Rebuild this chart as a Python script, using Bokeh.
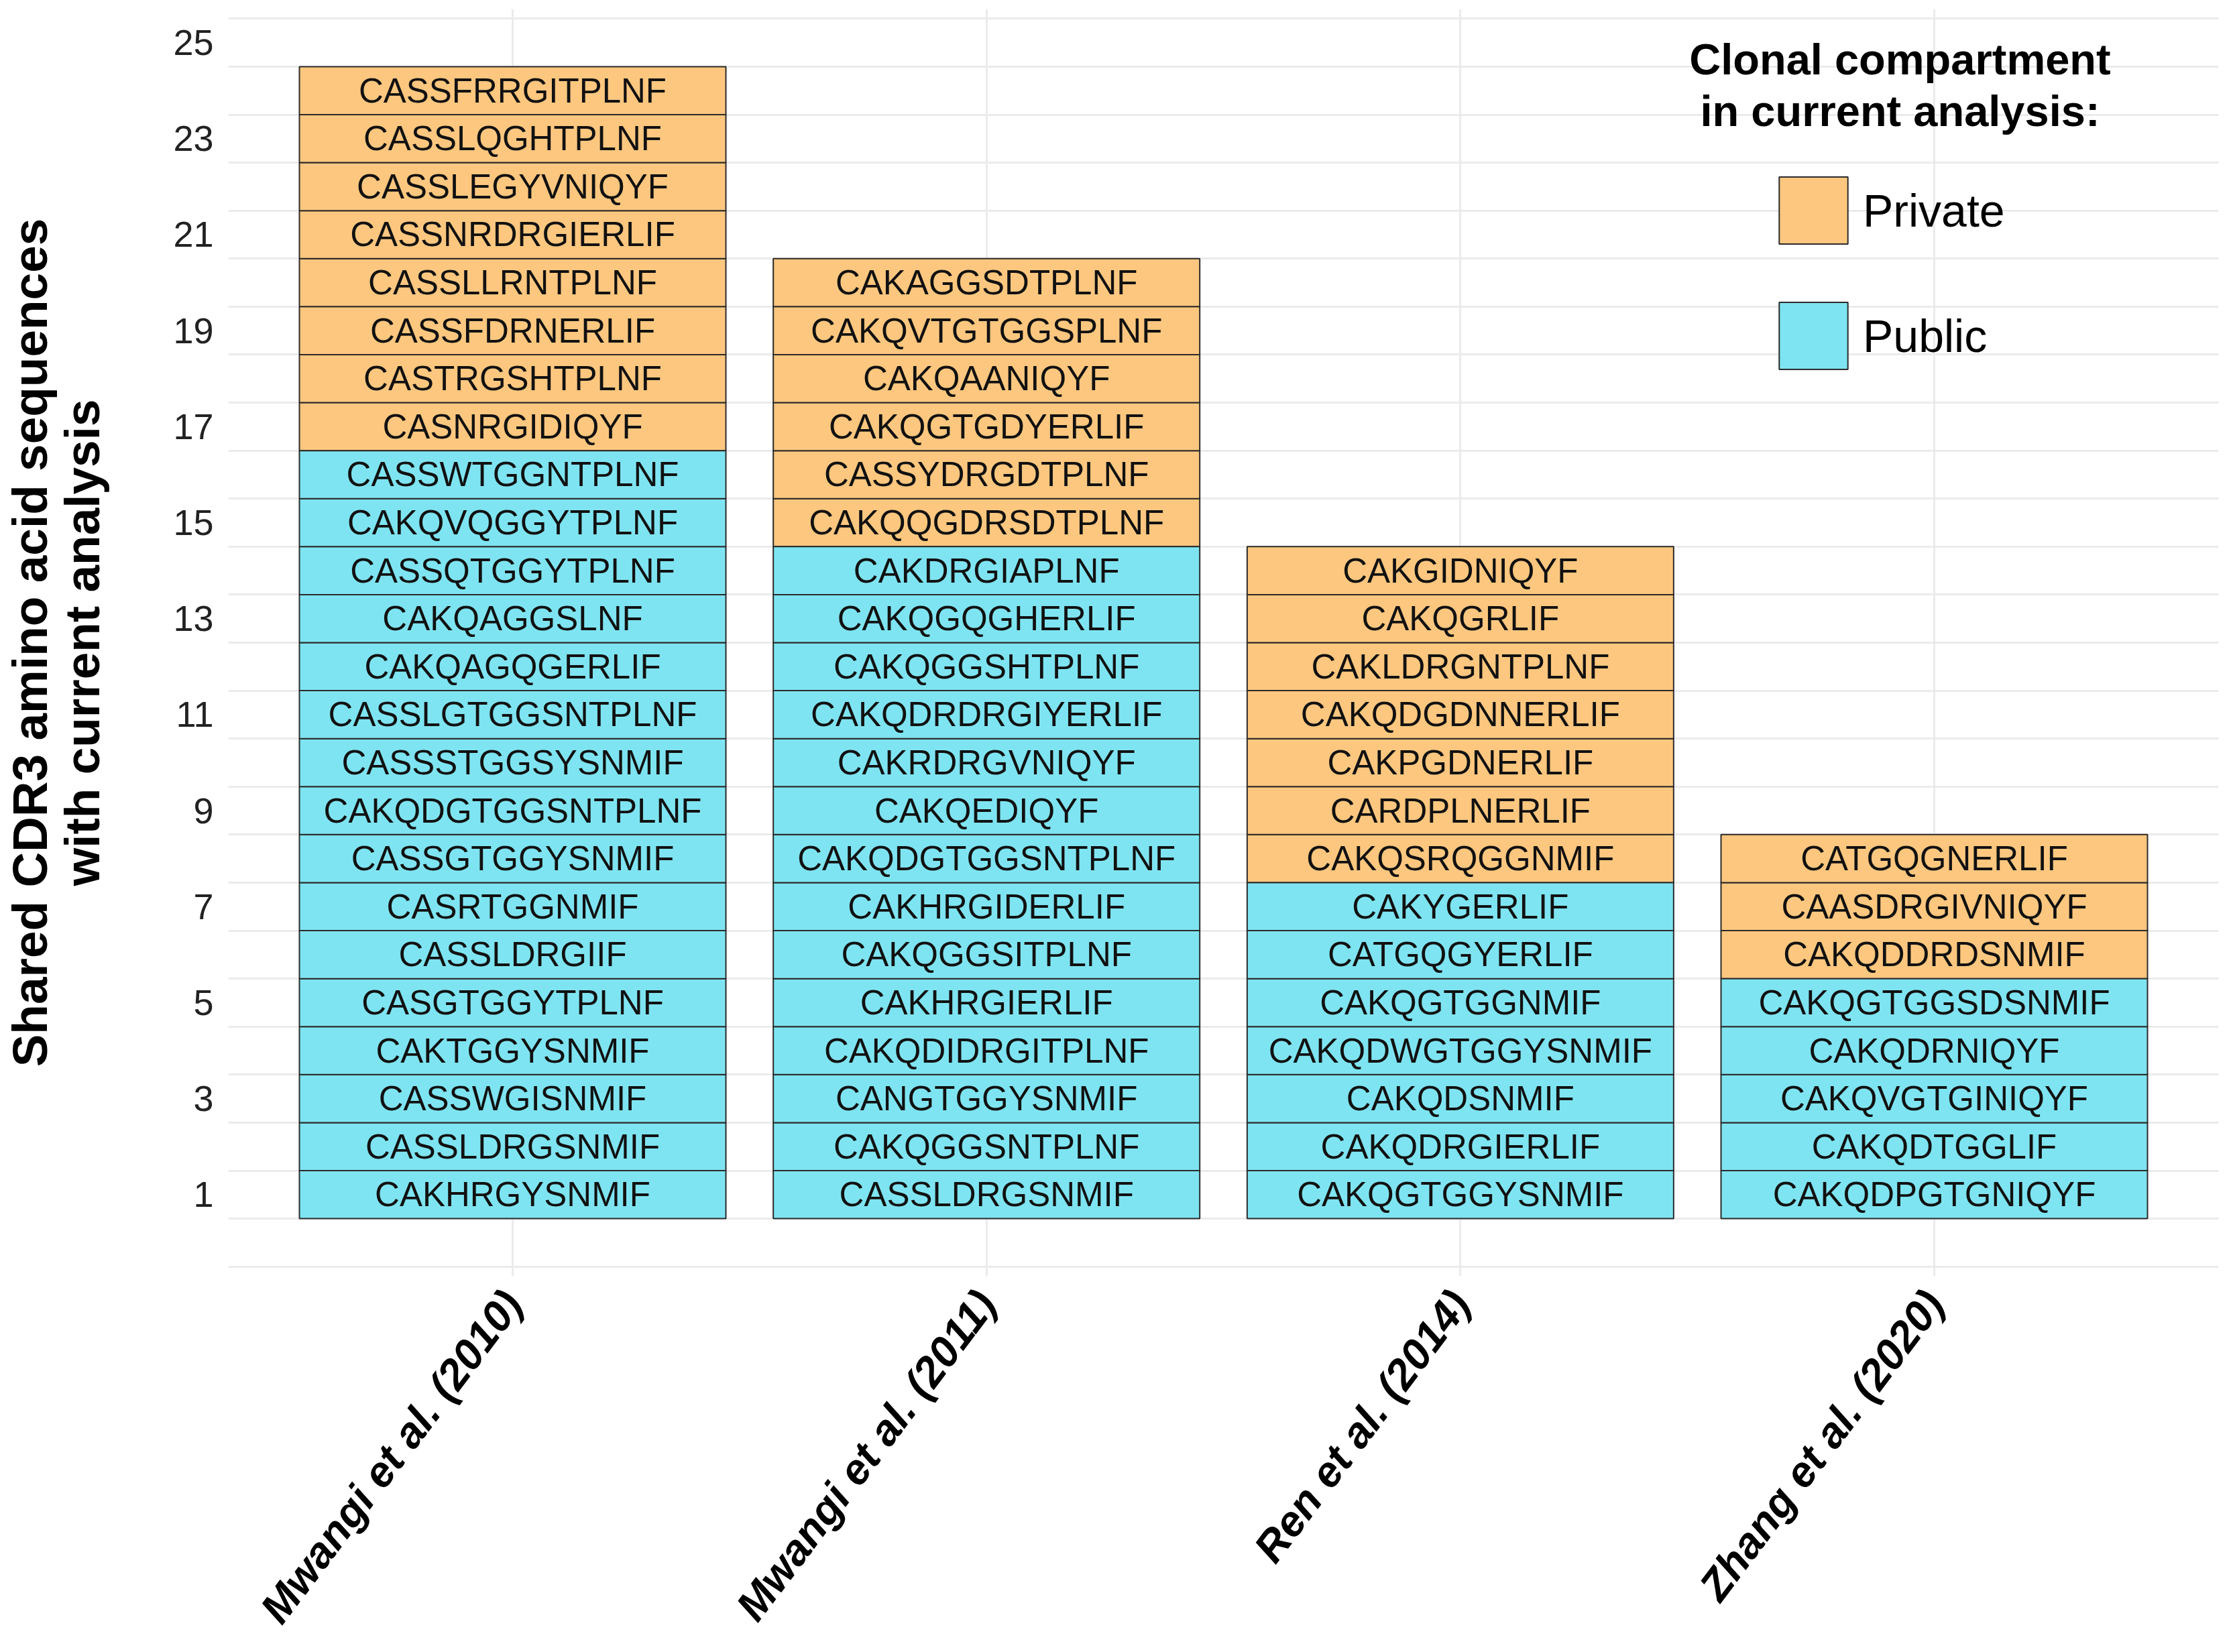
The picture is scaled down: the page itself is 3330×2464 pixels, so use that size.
import math
from bokeh.plotting import figure
from bokeh.models import (FactorRange, Range1d, FixedTicker, Legend, LegendItem,
                          Label, ColumnDataSource)
from bokeh.embed import file_html
from bokeh.resources import INLINE
from bokeh.core.properties import value

# ---------------- data ----------------
studies = ["Mwangi et al. (2010)", "Mwangi et al. (2011)",
           "Ren et al. (2014)", "Zhang et al. (2020)"]

# sequences listed bottom -> top
seq_mwangi_2010 = [
    "CAKHRGYSNMIF", "CASSLDRGSNMIF", "CASSWGISNMIF", "CAKTGGYSNMIF",
    "CASGTGGYTPLNF", "CASSLDRGIIF", "CASRTGGNMIF", "CASSGTGGYSNMIF",
    "CAKQDGTGGSNTPLNF", "CASSSTGGSYSNMIF", "CASSLGTGGSNTPLNF", "CAKQAGQGERLIF",
    "CAKQAGGSLNF", "CASSQTGGYTPLNF", "CAKQVQGGYTPLNF", "CASSWTGGNTPLNF",
    "CASNRGIDIQYF", "CASTRGSHTPLNF", "CASSFDRNERLIF", "CASSLLRNTPLNF",
    "CASSNRDRGIERLIF", "CASSLEGYVNIQYF", "CASSLQGHTPLNF", "CASSFRRGITPLNF",
]
seq_mwangi_2011 = [
    "CASSLDRGSNMIF", "CAKQGGSNTPLNF", "CANGTGGYSNMIF", "CAKQDIDRGITPLNF",
    "CAKHRGIERLIF", "CAKQGGSITPLNF", "CAKHRGIDERLIF", "CAKQDGTGGSNTPLNF",
    "CAKQEDIQYF", "CAKRDRGVNIQYF", "CAKQDRDRGIYERLIF", "CAKQGGSHTPLNF",
    "CAKQGQGHERLIF", "CAKDRGIAPLNF",
    "CAKQQGDRSDTPLNF", "CASSYDRGDTPLNF", "CAKQGTGDYERLIF", "CAKQAANIQYF",
    "CAKQVTGTGGSPLNF", "CAKAGGSDTPLNF",
]
seq_ren_2014 = [
    "CAKQGTGGYSNMIF", "CAKQDRGIERLIF", "CAKQDSNMIF", "CAKQDWGTGGYSNMIF",
    "CAKQGTGGNMIF", "CATGQGYERLIF", "CAKYGERLIF",
    "CAKQSRQGGNMIF", "CARDPLNERLIF", "CAKPGDNERLIF", "CAKQDGDNNERLIF",
    "CAKLDRGNTPLNF", "CAKQGRLIF", "CAKGIDNIQYF",
]
seq_zhang_2020 = [
    "CAKQDPGTGNIQYF", "CAKQDTGGLIF", "CAKQVGTGINIQYF", "CAKQDRNIQYF",
    "CAKQGTGGSDSNMIF",
    "CAKQDDRDSNMIF", "CAASDRGIVNIQYF", "CATGQGNERLIF",
]
sequences = [seq_mwangi_2010, seq_mwangi_2011, seq_ren_2014, seq_zhang_2020]

# number of public sequences (at the bottom of each stack), rest are private
n_public = [16, 14, 7, 5]
n_private = [8, 6, 7, 3]

compartments = ["Private", "Public"]
comp_colors = {"Private": "#FDC77F", "Public": "#7FE4F1"}

y_ticks = [1, 3, 5, 7, 9, 11, 13, 15, 17, 19, 21, 23, 25]

# ---------------- build sources ----------------
cols = {c: dict(x=[], y=[], seq=[]) for c in compartments}
allt = dict(x=[], y=[], seq=[])
for study, seqs, npub in zip(studies, sequences, n_public):
    for i, s in enumerate(seqs, start=1):
        comp = "Public" if i <= npub else "Private"
        cols[comp]["x"].append(study)
        cols[comp]["y"].append(i)
        cols[comp]["seq"].append(s)
        allt["x"].append(study)
        allt["y"].append(i)
        allt["seq"].append(s)

src = {c: ColumnDataSource(cols[c]) for c in compartments}
src_text = ColumnDataSource(allt)

FONT = "Liberation Sans"

p = figure(
    x_range=FactorRange(factors=studies, range_padding=0.1,
                        range_padding_units="absolute"),
    y_range=Range1d(-0.7, 25.7),
    frame_width=2968, frame_height=1890,
    min_border_left=337, min_border_right=9, min_border_top=13,
    min_border_bottom=545,
    output_backend="svg", toolbar_location=None,
)
p.outline_line_color = None
p.background_fill_color = "white"
p.border_fill_color = "white"

renderers = {}
for c in compartments:
    renderers[c] = p.rect(x="x", y="y", width=0.9, height=1, source=src[c],
                          fill_color=comp_colors[c], line_color="#2b2b2b",
                          line_width=2)

p.text(x="x", y="y", text="seq", source=src_text,
       text_font=value(FONT), text_font_size="51px", text_align="center",
       text_baseline="middle", text_color="#111111")

# grid
p.ygrid.ticker = FixedTicker(ticks=[k + 0.5 for k in range(-1, 26)])
p.ygrid.grid_line_color = "#EBEBEB"
p.ygrid.grid_line_width = 3
p.xgrid.grid_line_color = "#EBEBEB"
p.xgrid.grid_line_width = 3

# axes
for ax in (p.xaxis[0], p.yaxis[0]):
    ax.axis_line_color = None
    ax.major_tick_line_color = None
    ax.minor_tick_line_color = None
    ax.major_tick_in = 0
    ax.major_tick_out = 0
    ax.minor_tick_in = 0
    ax.minor_tick_out = 0

p.yaxis.ticker = FixedTicker(ticks=y_ticks)
p.yaxis.major_label_text_font = FONT
p.yaxis.major_label_text_font_size = "54px"
p.yaxis.major_label_text_color = "#222222"
p.yaxis.major_label_standoff = 22
p.yaxis.axis_label = "Shared CDR3 amino acid sequences\nwith current analysis"
p.yaxis.axis_label_text_font = FONT
p.yaxis.axis_label_text_font_size = "73px"
p.yaxis.axis_label_text_font_style = "bold"
p.yaxis.axis_label_text_color = "#000000"
p.yaxis.axis_label_text_line_height = 0.97
p.yaxis.axis_label_standoff = 92

p.xaxis.major_label_orientation = math.radians(53)
p.xaxis.major_label_text_font = FONT
p.xaxis.major_label_text_font_size = "64px"
p.xaxis.major_label_text_font_style = "bold italic"
p.xaxis.major_label_text_color = "#000000"
p.xaxis.major_label_standoff = 29

# legend (area legend glyphs are inset by 10% on each side)
legend = Legend(
    items=[LegendItem(label=c, renderers=[renderers[c]]) for c in compartments],
    location=(2300, 1340),
    glyph_width=128, glyph_height=125, spacing=62, padding=0, margin=0,
    label_standoff=10, label_text_font=FONT, label_text_font_size="68px",
    label_text_color="#000000", label_height=125,
    border_line_color=None, background_fill_alpha=0,
)
p.add_layout(legend)

for txt, yy in (("Clonal compartment", 1815), ("in current analysis:", 1738)):
    p.add_layout(Label(x=2493, y=yy, x_units="screen", y_units="screen",
                       text=txt, text_font=FONT, text_font_size="65px",
                       text_font_style="bold", text_align="center",
                       text_baseline="middle", text_color="#000000"))

open("out.html", "w").write(file_html(p, INLINE))
